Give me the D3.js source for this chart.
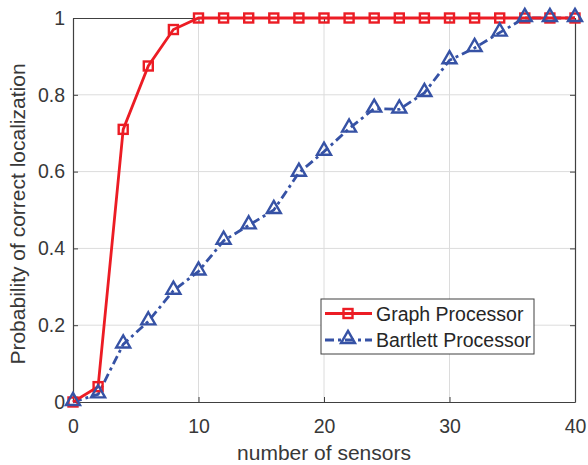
<!DOCTYPE html>
<html>
<head>
<meta charset="utf-8">
<script src="https://cdn.jsdelivr.net/npm/d3@7"></script>
<style>
  body { margin: 0; background: #fff; }
  svg { display: block; font-family: "Liberation Sans", Arial, Helvetica, sans-serif; }
  .grid line { stroke: #dcdcdc; stroke-width: 1; }
  .axis path, .axis line { stroke: #404040; }
  .axis text { fill: #383838; font-size: 19.5px; }
</style>
</head>
<body>
<div id="chart"></div>
<script>
// number of sensors vs probability of correct localization
const sensors = d3.range(0, 41, 2);
const graphProb = [0, 0.04, 0.71, 0.875, 0.97, 1, 1, 1, 1, 1, 1, 1, 1, 1, 1, 1, 1, 1, 1, 1, 1];
const bartlettProb = [0, 0.02, 0.15, 0.21, 0.29, 0.34, 0.42, 0.46, 0.50, 0.597, 0.652,
  0.712, 0.764, 0.762, 0.805, 0.89, 0.922, 0.962, 1, 1, 1];
const xTicks = [0, 10, 20, 30, 40];
const yTicks = [0, 0.2, 0.4, 0.6, 0.8, 1];

const W = 588, H = 465;
const margin = { top: 18, right: 13, bottom: 63, left: 73 };
const width = W - margin.left - margin.right;
const height = H - margin.top - margin.bottom;

const red = "#ec1c24";
const blue = "#3652a5";

const svg = d3.select("#chart").append("svg")
  .attr("width", W).attr("height", H)
  .append("g")
  .attr("transform", `translate(${margin.left},${margin.top})`);

const x = d3.scaleLinear().domain([0, 40]).range([0, width]);
const y = d3.scaleLinear().domain([0, 1]).range([height, 0]);

// grid
svg.append("g").attr("class", "grid")
  .selectAll("line.v").data(xTicks.slice(1, -1)).join("line")
  .attr("x1", d => x(d)).attr("x2", d => x(d)).attr("y1", 0).attr("y2", height);
svg.select(".grid")
  .selectAll("line.h").data(yTicks.slice(1, -1)).join("line")
  .attr("x1", 0).attr("x2", width).attr("y1", d => y(d)).attr("y2", d => y(d));

// axes (ticks inside, box all round)
svg.append("g").attr("class", "axis")
  .attr("transform", `translate(0,${height})`)
  .call(d3.axisBottom(x).tickValues(xTicks).tickSize(-5).tickPadding(17).tickSizeOuter(0));
svg.append("g").attr("class", "axis")
  .call(d3.axisLeft(y).tickValues(yTicks).tickSize(-5).tickPadding(8).tickSizeOuter(0)
    .tickFormat(d => d === 0 || d === 1 ? d3.format("d")(d) : d3.format(".1f")(d)));
svg.append("g").attr("class", "axis")
  .call(d3.axisTop(x).tickValues(xTicks).tickSize(-5).tickFormat("").tickSizeOuter(0));
svg.append("g").attr("class", "axis")
  .attr("transform", `translate(${width},0)`)
  .call(d3.axisRight(y).tickValues(yTicks).tickSize(-5).tickFormat("").tickSizeOuter(0));
svg.selectAll(".axis path").attr("stroke-width", 1.2);

// labels
svg.append("text")
  .attr("x", width / 2).attr("y", 460 - margin.top)
  .attr("text-anchor", "middle")
  .attr("font-size", 21).attr("fill", "#383838")
  .text("number of sensors");
svg.append("text")
  .attr("transform", `translate(${25 - margin.left},${height / 2 + 4}) rotate(-90)`)
  .attr("text-anchor", "middle")
  .attr("font-size", 21).attr("fill", "#383838")
  .text("Probability of correct localization");

const line = d3.line().x(d => x(d[0])).y(d => y(d[1]));
const graphData = sensors.map((s, i) => [s, graphProb[i]]);
const bartData = sensors.map((s, i) => [s, bartlettProb[i]]);

const plot = svg.append("g");

plot.append("path").datum(bartData)
  .attr("d", line).attr("fill", "none")
  .attr("stroke", blue).attr("stroke-width", 2.8)
  .attr("stroke-dasharray", "9,4,3,4");

plot.append("path").datum(graphData)
  .attr("d", line).attr("fill", "none")
  .attr("stroke", red).attr("stroke-width", 2.8);

const tri = d3.symbol().type(d3.symbolTriangle).size(85);

plot.selectAll("rect.sq").data(graphData).join("rect")
  .attr("x", d => x(d[0]) - 4.5).attr("y", d => y(d[1]) - 4.5)
  .attr("width", 9).attr("height", 9)
  .attr("fill", "none").attr("stroke", red).attr("stroke-width", 2.4);

plot.selectAll("path.tri").data(bartData).join("path")
  .attr("d", tri)
  .attr("transform", d => `translate(${x(d[0])},${y(d[1]) - 1})`)
  .attr("fill", "none").attr("stroke", blue).attr("stroke-width", 2.4);

// legend
const lg = svg.append("g").attr("transform", `translate(${321 - margin.left},${299 - margin.top})`);
lg.append("rect").attr("width", 213).attr("height", 55)
  .attr("fill", "#fff").attr("stroke", "#404040").attr("stroke-width", 1);
const items = [
  { label: "Graph Processor", color: red, dash: null, shape: "sq" },
  { label: "Bartlett Processor", color: blue, dash: "9,4,3,4", shape: "tri" }
];
items.forEach((it, i) => {
  const cy = 14.5 + i * 26.5;
  lg.append("line").attr("x1", 4).attr("x2", 51).attr("y1", cy).attr("y2", cy)
    .attr("stroke", it.color).attr("stroke-width", 2.8)
    .attr("stroke-dasharray", it.dash);
  if (it.shape === "sq") {
    lg.append("rect").attr("x", 27 - 4.5).attr("y", cy - 4.5).attr("width", 9).attr("height", 9)
      .attr("fill", "none").attr("stroke", it.color).attr("stroke-width", 2.4);
  } else {
    lg.append("path").attr("d", tri).attr("transform", `translate(27,${cy - 1})`)
      .attr("fill", "none").attr("stroke", it.color).attr("stroke-width", 2.4);
  }
  lg.append("text").attr("x", 55).attr("y", cy + 7)
    .attr("font-size", 19.5).attr("fill", "#262626")
    .text(it.label);
});
</script>
</body>
</html>
